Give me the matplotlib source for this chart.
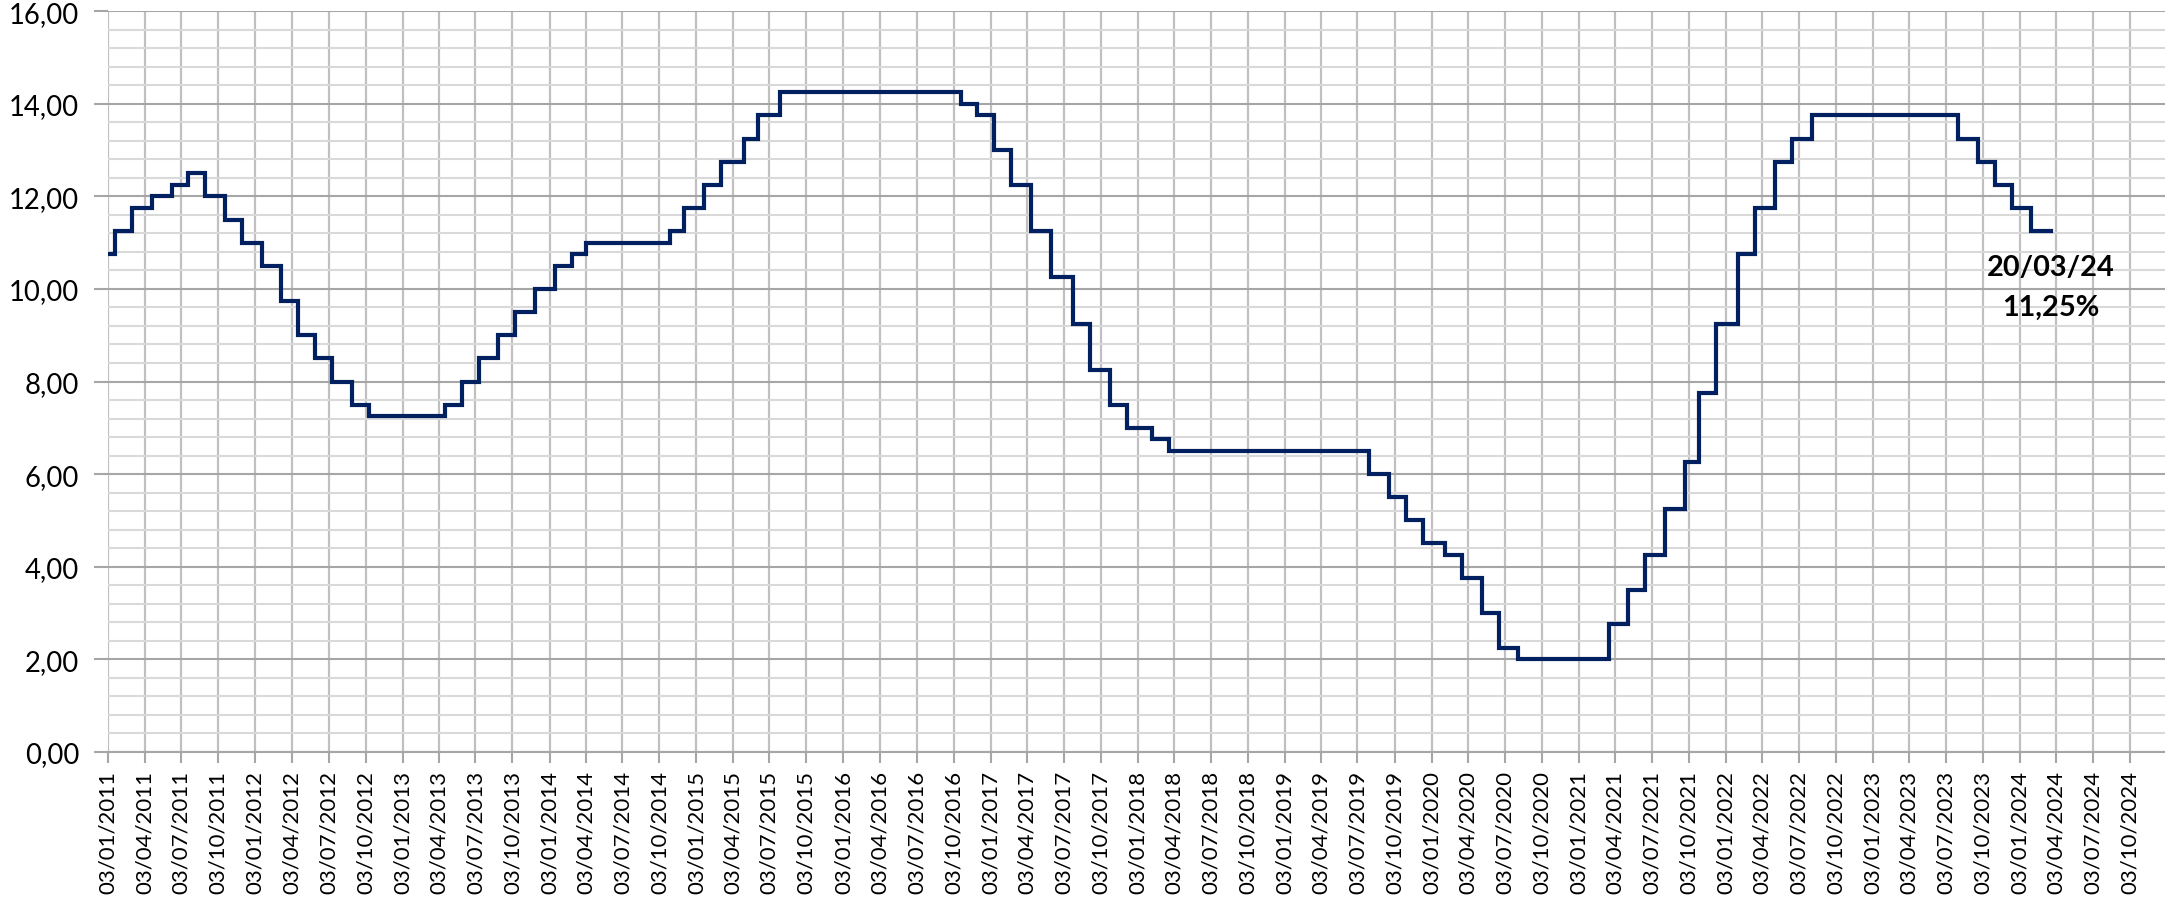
import matplotlib
matplotlib.use("Agg")
import matplotlib.pyplot as plt
import matplotlib.dates as mdates
from matplotlib.ticker import MultipleLocator, FuncFormatter
import datetime as dt

plt.rcParams['font.family'] = ['Lato', 'DejaVu Sans']

# Selic target rate changes (date of decision, rate %)
change_dates = [
    "2011-01-03", "2011-01-20", "2011-03-03", "2011-04-21", "2011-06-09", "2011-07-21",
    "2011-09-01", "2011-10-20", "2011-12-01", "2012-01-19", "2012-03-08", "2012-04-19",
    "2012-05-31", "2012-07-12", "2012-08-30", "2012-10-11", "2013-04-18", "2013-05-30",
    "2013-07-11", "2013-08-29", "2013-10-10", "2013-11-28", "2014-01-16", "2014-02-27",
    "2014-04-03", "2014-10-30", "2014-12-04", "2015-01-22", "2015-03-05", "2015-04-30",
    "2015-06-04", "2015-07-30", "2016-10-20", "2016-12-01", "2017-01-12", "2017-02-23",
    "2017-04-13", "2017-06-01", "2017-07-27", "2017-09-07", "2017-10-26", "2017-12-07",
    "2018-02-08", "2018-03-22", "2019-08-01", "2019-09-19", "2019-10-31", "2019-12-12",
    "2020-02-06", "2020-03-19", "2020-05-07", "2020-06-18", "2020-08-06", "2021-03-18",
    "2021-05-06", "2021-06-17", "2021-08-05", "2021-09-23", "2021-10-28", "2021-12-09",
    "2022-02-03", "2022-03-17", "2022-05-05", "2022-06-16", "2022-08-04", "2023-08-03",
    "2023-09-21", "2023-11-02", "2023-12-14", "2024-02-01", "2024-03-20",
]
rates = [
    10.75, 11.25, 11.75, 12.00, 12.25, 12.50,
    12.00, 11.50, 11.00, 10.50, 9.75, 9.00,
    8.50, 8.00, 7.50, 7.25, 7.50, 8.00,
    8.50, 9.00, 9.50, 10.00, 10.50, 10.75,
    11.00, 11.25, 11.75, 12.25, 12.75, 13.25,
    13.75, 14.25, 14.00, 13.75, 13.00, 12.25,
    11.25, 10.25, 9.25, 8.25, 7.50, 7.00,
    6.75, 6.50, 6.00, 5.50, 5.00, 4.50,
    4.25, 3.75, 3.00, 2.25, 2.00, 2.75,
    3.50, 4.25, 5.25, 6.25, 7.75, 9.25,
    10.75, 11.75, 12.75, 13.25, 13.75, 13.25,
    12.75, 12.25, 11.75, 11.25, 11.25,
]
annot_lines = ["20/03/24", "11,25%"]

dates = [dt.datetime.strptime(d, "%Y-%m-%d") for d in change_dates]

W, H = 2165, 903
fig = plt.figure(figsize=(W / 100, H / 100), dpi=100)
left_px, right_px, top_px, bot_px = 108.3, 2165, 12.3, 752.7
ax = fig.add_axes([left_px / W, (H - bot_px) / H, (right_px - left_px) / W, (bot_px - top_px) / H])

ax.step(dates, rates, where="post", color="#002060", lw=3.0, solid_joinstyle="miter", zorder=3)

# axes limits
x0 = mdates.date2num(dt.datetime(2011, 1, 3))
x_last_tick = mdates.date2num(dt.datetime(2024, 10, 3))
px_per_day = (2130 - left_px) / (x_last_tick - x0)
ax.set_xlim(x0, x0 + (right_px - left_px) / px_per_day)
ax.set_ylim(0, 16)

ax.xaxis.set_major_locator(mdates.MonthLocator(bymonth=[1, 4, 7, 10], bymonthday=3))
ax.xaxis.set_major_formatter(mdates.DateFormatter("%d/%m/%Y"))
ax.yaxis.set_major_locator(MultipleLocator(2))
ax.yaxis.set_minor_locator(MultipleLocator(0.4))
ax.yaxis.set_major_formatter(FuncFormatter(lambda v, p: f"{v:.2f}".replace(".", ",")))

ax.grid(True, which="major", axis="x", color="#c0c0c0", lw=1.6, zorder=1)
ax.grid(True, which="major", axis="y", color="#a6a6a6", lw=1.5, zorder=1)
ax.grid(True, which="minor", axis="y", color="#d9d9d9", lw=1.5, zorder=0)
ax.set_axisbelow(True)

for s in ["top", "right", "left"]:
    ax.spines[s].set_visible(False)
ax.spines["bottom"].set_color("#a6a6a6")
ax.spines["bottom"].set_linewidth(1.5)

ax.tick_params(axis="x", which="major", length=8, width=1.5, color="#a6a6a6",
               labelsize=16.0, labelrotation=90, pad=5, labelcolor="#000000")
ax.tick_params(axis="y", which="major", length=10, width=1.5, color="#a6a6a6",
               labelsize=19.8, pad=11, labelcolor="#000000")
ax.tick_params(axis="y", which="minor", length=0)

# annotation at last data point
ax.annotate(annot_lines[0], xy=(dates[-1], rates[-1]), xytext=(0, -36),
            textcoords="offset pixels", ha="center", va="center",
            fontsize=20.8, fontweight="bold")
ax.annotate(annot_lines[1], xy=(dates[-1], rates[-1]), xytext=(0, -76),
            textcoords="offset pixels", ha="center", va="center",
            fontsize=20.8, fontweight="bold")

fig.savefig("out.png", dpi=100)
